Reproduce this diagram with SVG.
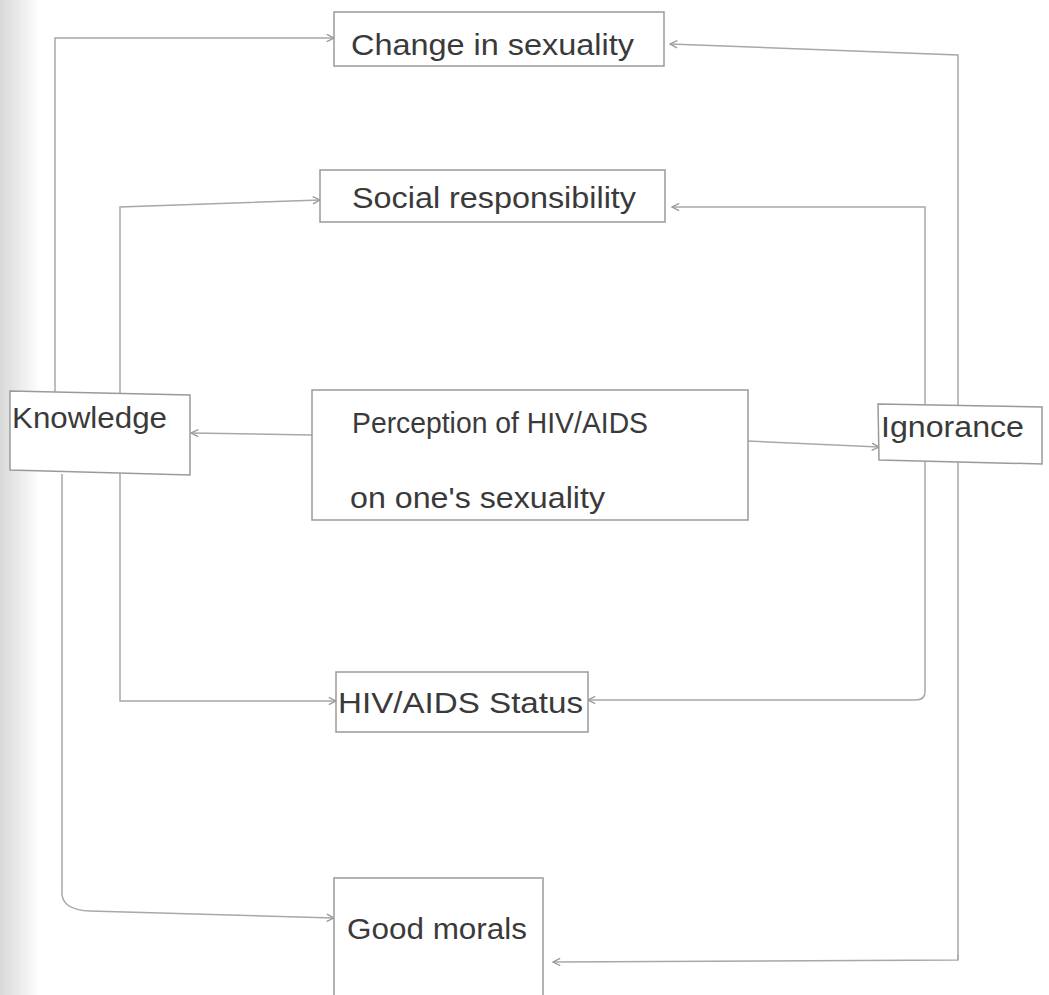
<svg xmlns="http://www.w3.org/2000/svg" width="1049" height="995" viewBox="0 0 1049 995">
<style>
.box{fill:#fff;stroke:#9a9a9a;stroke-width:1.5}
.lbl{font-family:"Liberation Sans",Arial,sans-serif;font-size:29px;fill:#3a3a3a}
.con{fill:none;stroke:#a8a8a8;stroke-width:1.5}
</style>
<defs>
<marker id="arr" viewBox="0 0 10 10" refX="9" refY="5" markerWidth="9" markerHeight="9" orient="auto" markerUnits="userSpaceOnUse">
<path d="M1,1 L9,5 L1,9" fill="none" stroke="#999" stroke-width="1.5"/>
</marker>
<linearGradient id="edge" x1="0" y1="0" x2="1" y2="0">
<stop offset="0" stop-color="#d8d8d8"/>
<stop offset="1" stop-color="#ffffff"/>
</linearGradient>
</defs>
<rect x="0" y="0" width="1049" height="995" fill="#fff"/>
<rect x="0" y="0" width="40" height="995" fill="url(#edge)"/>
<g id="connectors">
<path class="con" d="M55,392 V38 H334" marker-end="url(#arr)"/>
<path class="con" d="M958,960 V55 L670,44" marker-end="url(#arr)"/>
<path class="con" d="M120,393 V207 L320,200" marker-end="url(#arr)"/>
<path class="con" d="M925,405 V207 H672" marker-end="url(#arr)"/>
<path class="con" d="M312,435 L191,433" marker-end="url(#arr)"/>
<path class="con" d="M748,441 L879,447" marker-end="url(#arr)"/>
<path class="con" d="M120,474 V701 H336" marker-end="url(#arr)"/>
<path class="con" d="M62,474 V895 Q64,910 90,911 L334,918" marker-end="url(#arr)"/>
<path class="con" d="M925,462 V692 Q925,700 915,700 H588" marker-end="url(#arr)"/>
<path class="con" d="M958,955 V960 L553,962" marker-end="url(#arr)"/>
</g>
<g id="change">
<rect class="box" x="334" y="12" width="330" height="54"/>
<text class="lbl" x="351" y="55" textLength="283" lengthAdjust="spacingAndGlyphs">Change in sexuality</text>
</g>
<g id="social">
<rect class="box" x="320" y="170" width="345" height="52"/>
<text class="lbl" x="352" y="208" textLength="284" lengthAdjust="spacingAndGlyphs">Social responsibility</text>
</g>
<g id="knowledge">
<path class="box" d="M10,391 L190,395 L190,475 L10,470 Z"/>
<text class="lbl" x="12" y="428" textLength="155" lengthAdjust="spacingAndGlyphs">Knowledge</text>
</g>
<g id="perception">
<rect class="box" x="312" y="390" width="436" height="130"/>
<text class="lbl" x="352" y="433" textLength="296" lengthAdjust="spacingAndGlyphs">Perception of HIV/AIDS</text>
<text class="lbl" x="350" y="508" textLength="255" lengthAdjust="spacingAndGlyphs">on one's sexuality</text>
</g>
<g id="ignorance">
<path class="box" d="M878,404 L1042,407 L1042,464 L879,460 Z"/>
<text class="lbl" x="881" y="437" textLength="143" lengthAdjust="spacingAndGlyphs">Ignorance</text>
</g>
<g id="status">
<rect class="box" x="336" y="672" width="252" height="60"/>
<text class="lbl" x="338" y="713" textLength="245" lengthAdjust="spacingAndGlyphs">HIV/AIDS Status</text>
</g>
<g id="morals">
<rect class="box" x="334" y="878" width="209" height="130"/>
<text class="lbl" x="347" y="939" textLength="180" lengthAdjust="spacingAndGlyphs">Good morals</text>
</g>
</svg>
